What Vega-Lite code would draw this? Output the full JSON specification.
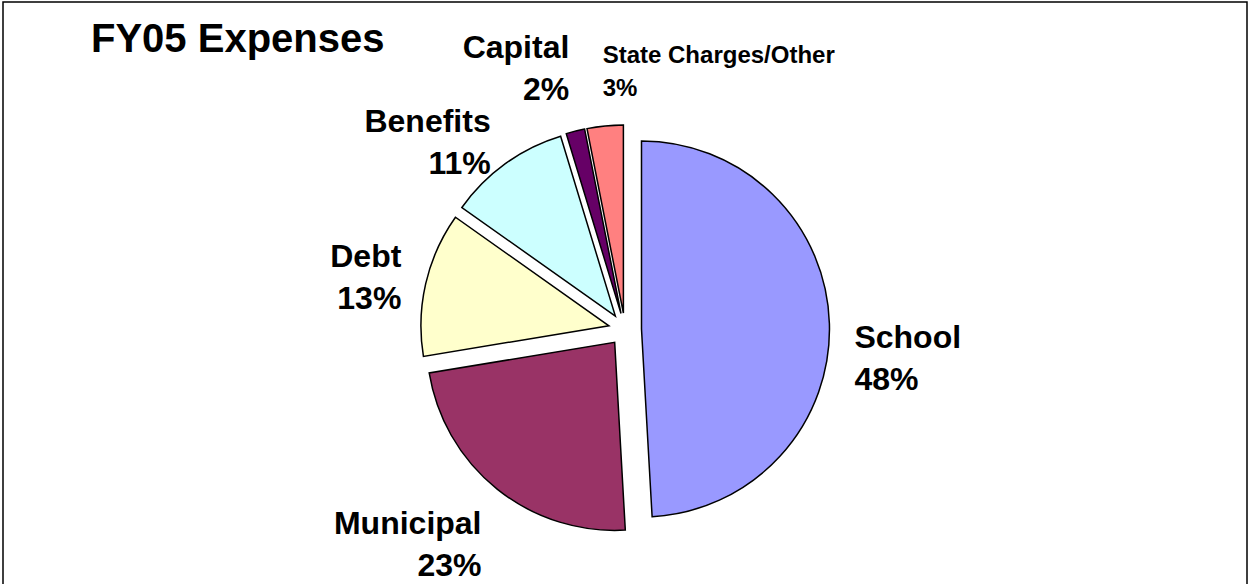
{
  "$schema": "https://vega.github.io/schema/vega-lite/v6.json",
  "width": 1251,
  "height": 584,
  "autosize": {"type": "fit", "contains": "padding"},
  "padding": {"left": 3, "top": 2, "right": 4, "bottom": -3},
  "background": "white",
  "config": {"view": {"stroke": "black", "strokeWidth": 1.5}, "font": "Liberation Sans"},
  "title": {
    "text": "FY05 Expenses",
    "anchor": "start",
    "frame": "group",
    "font": "Liberation Sans",
    "fontSize": 40,
    "fontWeight": "bold",
    "color": "black",
    "dx": 88,
    "offset": -58
  },
  "data": {
    "values": [
      {"name": "School", "pct": "48%", "value": 49.1},
      {"name": "Municipal", "pct": "23%", "value": 23.3},
      {"name": "Debt", "pct": "13%", "value": 12.4},
      {"name": "Benefits", "pct": "11%", "value": 10.5},
      {"name": "Capital", "pct": "2%", "value": 1.6},
      {"name": "State Charges/Other", "pct": "3%", "value": 3.1}
    ]
  },
  "transform": [
    {"window": [{"op": "sum", "field": "value", "as": "cum"}]},
    {"calculate": "datum.cum - datum.value", "as": "start"},
    {"calculate": "datum.cum - datum.value / 2", "as": "mid"},
    {"calculate": "sin(2 * PI * datum.mid / 100)", "as": "ux"},
    {"calculate": "cos(2 * PI * datum.mid / 100)", "as": "uy"},
    {"calculate": "[datum.name, datum.pct]", "as": "label"}
  ],
  "encoding": {
    "x": {"field": "ux", "type": "quantitative", "axis": null, "scale": {"domain": [-37.697, 37.697], "nice": false, "zero": false}},
    "y": {"field": "uy", "type": "quantitative", "axis": null, "scale": {"domain": [-15.606, 19.848], "nice": false, "zero": false}}
  },
  "layer": [
    {
      "mark": {"type": "arc", "radius": 188, "stroke": "black", "strokeWidth": 1.5},
      "encoding": {
        "theta": {"field": "start", "type": "quantitative", "stack": null, "scale": {"domain": [0, 100], "range": [0, 6.283185307179586]}},
        "theta2": {"field": "cum"},
        "color": {
          "field": "name",
          "type": "nominal",
          "legend": null,
          "scale": {
            "domain": ["School", "Municipal", "Debt", "Benefits", "Capital", "State Charges/Other"],
            "range": ["#9999FF", "#993366", "#FFFFCC", "#CCFFFF", "#660066", "#FF8080"]
          }
        }
      }
    },
    {
      "mark": {
        "type": "text",
        "radius": 213,
        "font": "Liberation Sans",
        "fontWeight": "bold",
        "color": "black",
        "align": {"expr": "datum.ux < -0.15 ? 'right' : 'left'"},
        "baseline": {"expr": "datum.uy > 0.9 ? 'bottom' : (datum.uy > 0.2 ? 'middle' : 'top')"},
        "lineHeight": {"expr": "datum.name === 'State Charges/Other' ? 33 : 42"},
        "dy": {"expr": "datum.uy > 0.9 ? -(datum.name === 'State Charges/Other' ? 33 : 42) : (datum.uy > 0.2 ? -21 : 0)"}
      },
      "encoding": {
        "theta": {"field": "mid", "type": "quantitative"},
        "text": {"field": "label"},
        "size": {"condition": {"test": "datum.name === 'State Charges/Other'", "value": 24}, "value": 32}
      }
    }
  ]
}
